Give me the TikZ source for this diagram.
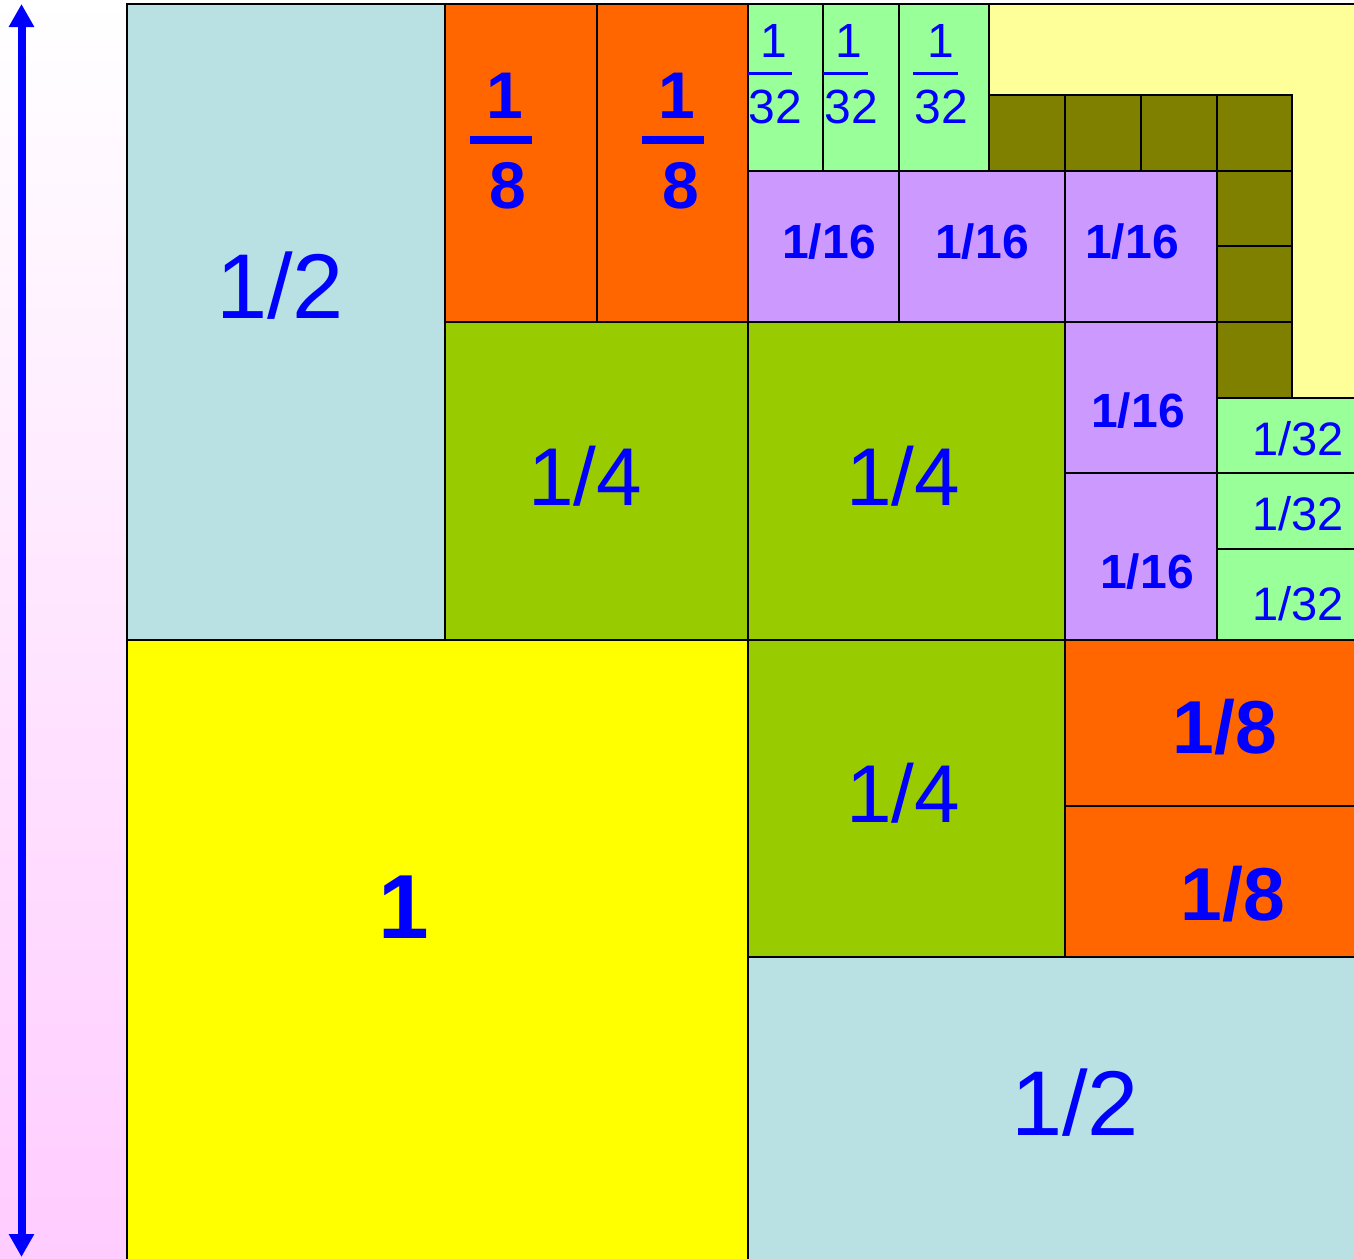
\documentclass[tikz,border=0pt]{standalone}
\usepackage{fontspec}
\setmainfont{Liberation Sans}
\usetikzlibrary{arrows.meta}
\definecolor{lblue}{RGB}{185,224,227}
\definecolor{orng}{RGB}{255,102,0}
\definecolor{grn}{RGB}{153,204,0}
\definecolor{lgrn}{RGB}{153,255,153}
\definecolor{purp}{RGB}{204,153,255}
\definecolor{oliv}{RGB}{128,128,0}
\definecolor{pyel}{RGB}{255,255,153}
\definecolor{yel}{RGB}{255,255,0}
\definecolor{pinkbg}{RGB}{255,204,255}
\newcommand\cellbox[5]{\path[cell,fill=#5] (#1,#2) rectangle (#3,#4);}
\begin{document}
\begin{tikzpicture}[x=1pt,y=-1pt,
  cell/.style={draw=black,line width=2pt},
  lab/.style={text=blue,inner sep=0pt,anchor=base,font=\fontsize{#1}{#1}\selectfont},
  blab/.style={text=blue,inner sep=0pt,anchor=base,font=\fontsize{#1}{#1}\selectfont\bfseries},
  fbar/.style={draw=blue,line width=#1}]
\useasboundingbox (0,0) rectangle (1354,1258);
\shade[top color=white,bottom color=pinkbg] (0,0) rectangle (1354,1258);
% pale yellow area
\path[fill=pyel] (989,4) rectangle (1358,398);
\draw[black,line width=2pt] (989,4) -- (1358,4);
\draw[gray,line width=2pt] (1292,398) -- (1358,398);
% big cells
\cellbox{127}{4}{445}{640}{lblue}
\cellbox{445}{4}{597}{322}{orng}
\cellbox{597}{4}{748}{322}{orng}
\cellbox{748}{4}{823}{171}{lgrn}
\cellbox{823}{4}{899}{171}{lgrn}
\cellbox{899}{4}{989}{171}{lgrn}
% olive
\cellbox{989}{95}{1065}{171}{oliv}
\cellbox{1065}{95}{1141}{171}{oliv}
\cellbox{1141}{95}{1217}{171}{oliv}
\cellbox{1217}{95}{1292}{171}{oliv}
\cellbox{1217}{171}{1292}{246}{oliv}
\cellbox{1217}{246}{1292}{322}{oliv}
\cellbox{1217}{322}{1292}{398}{oliv}
% purple
\cellbox{748}{171}{899}{322}{purp}
\cellbox{899}{171}{1065}{322}{purp}
\cellbox{1065}{171}{1217}{322}{purp}
\cellbox{1065}{322}{1217}{473}{purp}
\cellbox{1065}{473}{1217}{640}{purp}
% light green right
\cellbox{1217}{398}{1358}{473}{lgrn}
\cellbox{1217}{473}{1358}{549}{lgrn}
\cellbox{1217}{549}{1358}{640}{lgrn}
% green quarters
\cellbox{445}{322}{748}{640}{grn}
\cellbox{748}{322}{1065}{640}{grn}
\cellbox{748}{640}{1065}{957}{grn}
% yellow
\cellbox{127}{640}{748}{1262}{yel}
% orange eighths
\cellbox{1065}{640}{1358}{806}{orng}
\cellbox{1065}{806}{1358}{957}{orng}
% light blue bottom
\cellbox{748}{957}{1358}{1262}{lblue}
% labels
\node[lab=92] (halfA) at (280,318) {1/2};
\node[blab=66] (eAn) at (505,118) {1};
\node[blab=66] (eAd) at (508,208) {8};
\coordinate (eAl) at (470,140); \coordinate (eAr) at (532,140);
\draw[fbar=8pt] (eAl) -- (eAr);
\node[blab=66] (eBn) at (677,118) {1};
\node[blab=66] (eBd) at (681,208) {8};
\coordinate (eBl) at (642,140); \coordinate (eBr) at (704,140);
\draw[fbar=8pt] (eBl) -- (eBr);
% 1/32 fractions top
\node[lab=48] (tAn) at (774,57) {1};
\node[lab=48] (tAd) at (775,123) {32};
\coordinate (tAl) at (748,73.5); \coordinate (tAr) at (792,73.5);
\draw[fbar=3pt] (tAl) -- (tAr);
\node[lab=48] (tBn) at (849,57) {1};
\node[lab=48] (tBd) at (851,123) {32};
\coordinate (tBl) at (823,73.5); \coordinate (tBr) at (868,73.5);
\draw[fbar=3pt] (tBl) -- (tBr);
\node[lab=48] (tCn) at (941,57) {1};
\node[lab=48] (tCd) at (941,123) {32};
\coordinate (tCl) at (913,73.5); \coordinate (tCr) at (958,73.5);
\draw[fbar=3pt] (tCl) -- (tCr);
% 1/16
\node[blab=48] (sA) at (829,258) {1/16};
\node[blab=48] (sB) at (982,258) {1/16};
\node[blab=48] (sC) at (1132,258) {1/16};
\node[blab=48] (sD) at (1138,427) {1/16};
\node[blab=48] (sE) at (1147,588) {1/16};
% 1/32 right
\node[lab=47] (rA) at (1298,455) {1/32};
\node[lab=47] (rB) at (1298,530) {1/32};
\node[lab=47] (rC) at (1298,620) {1/32};
% quarters
\node[lab=82] (qA) at (585,505) {1/4};
\node[lab=82] (qB) at (903,505) {1/4};
\node[lab=82] (qC) at (903,822) {1/4};
% one
\node[blab=91] (one) at (404,938) {1};
% eighths bottom right
\node[blab=75] (eC) at (1225,753) {1/8};
\node[blab=75] (eD) at (1233,920) {1/8};
% half bottom
\node[lab=92] (halfB) at (1075,1135) {1/2};
% arrow
\coordinate (arT) at (21.5,4);
\coordinate (arB) at (21.5,1257);
\draw[blue,line width=8pt,{Triangle[width=24pt,length=23pt]}-{Triangle[width=24pt,length=23pt]}] (arT) -- (arB);
\end{tikzpicture}
\end{document}
